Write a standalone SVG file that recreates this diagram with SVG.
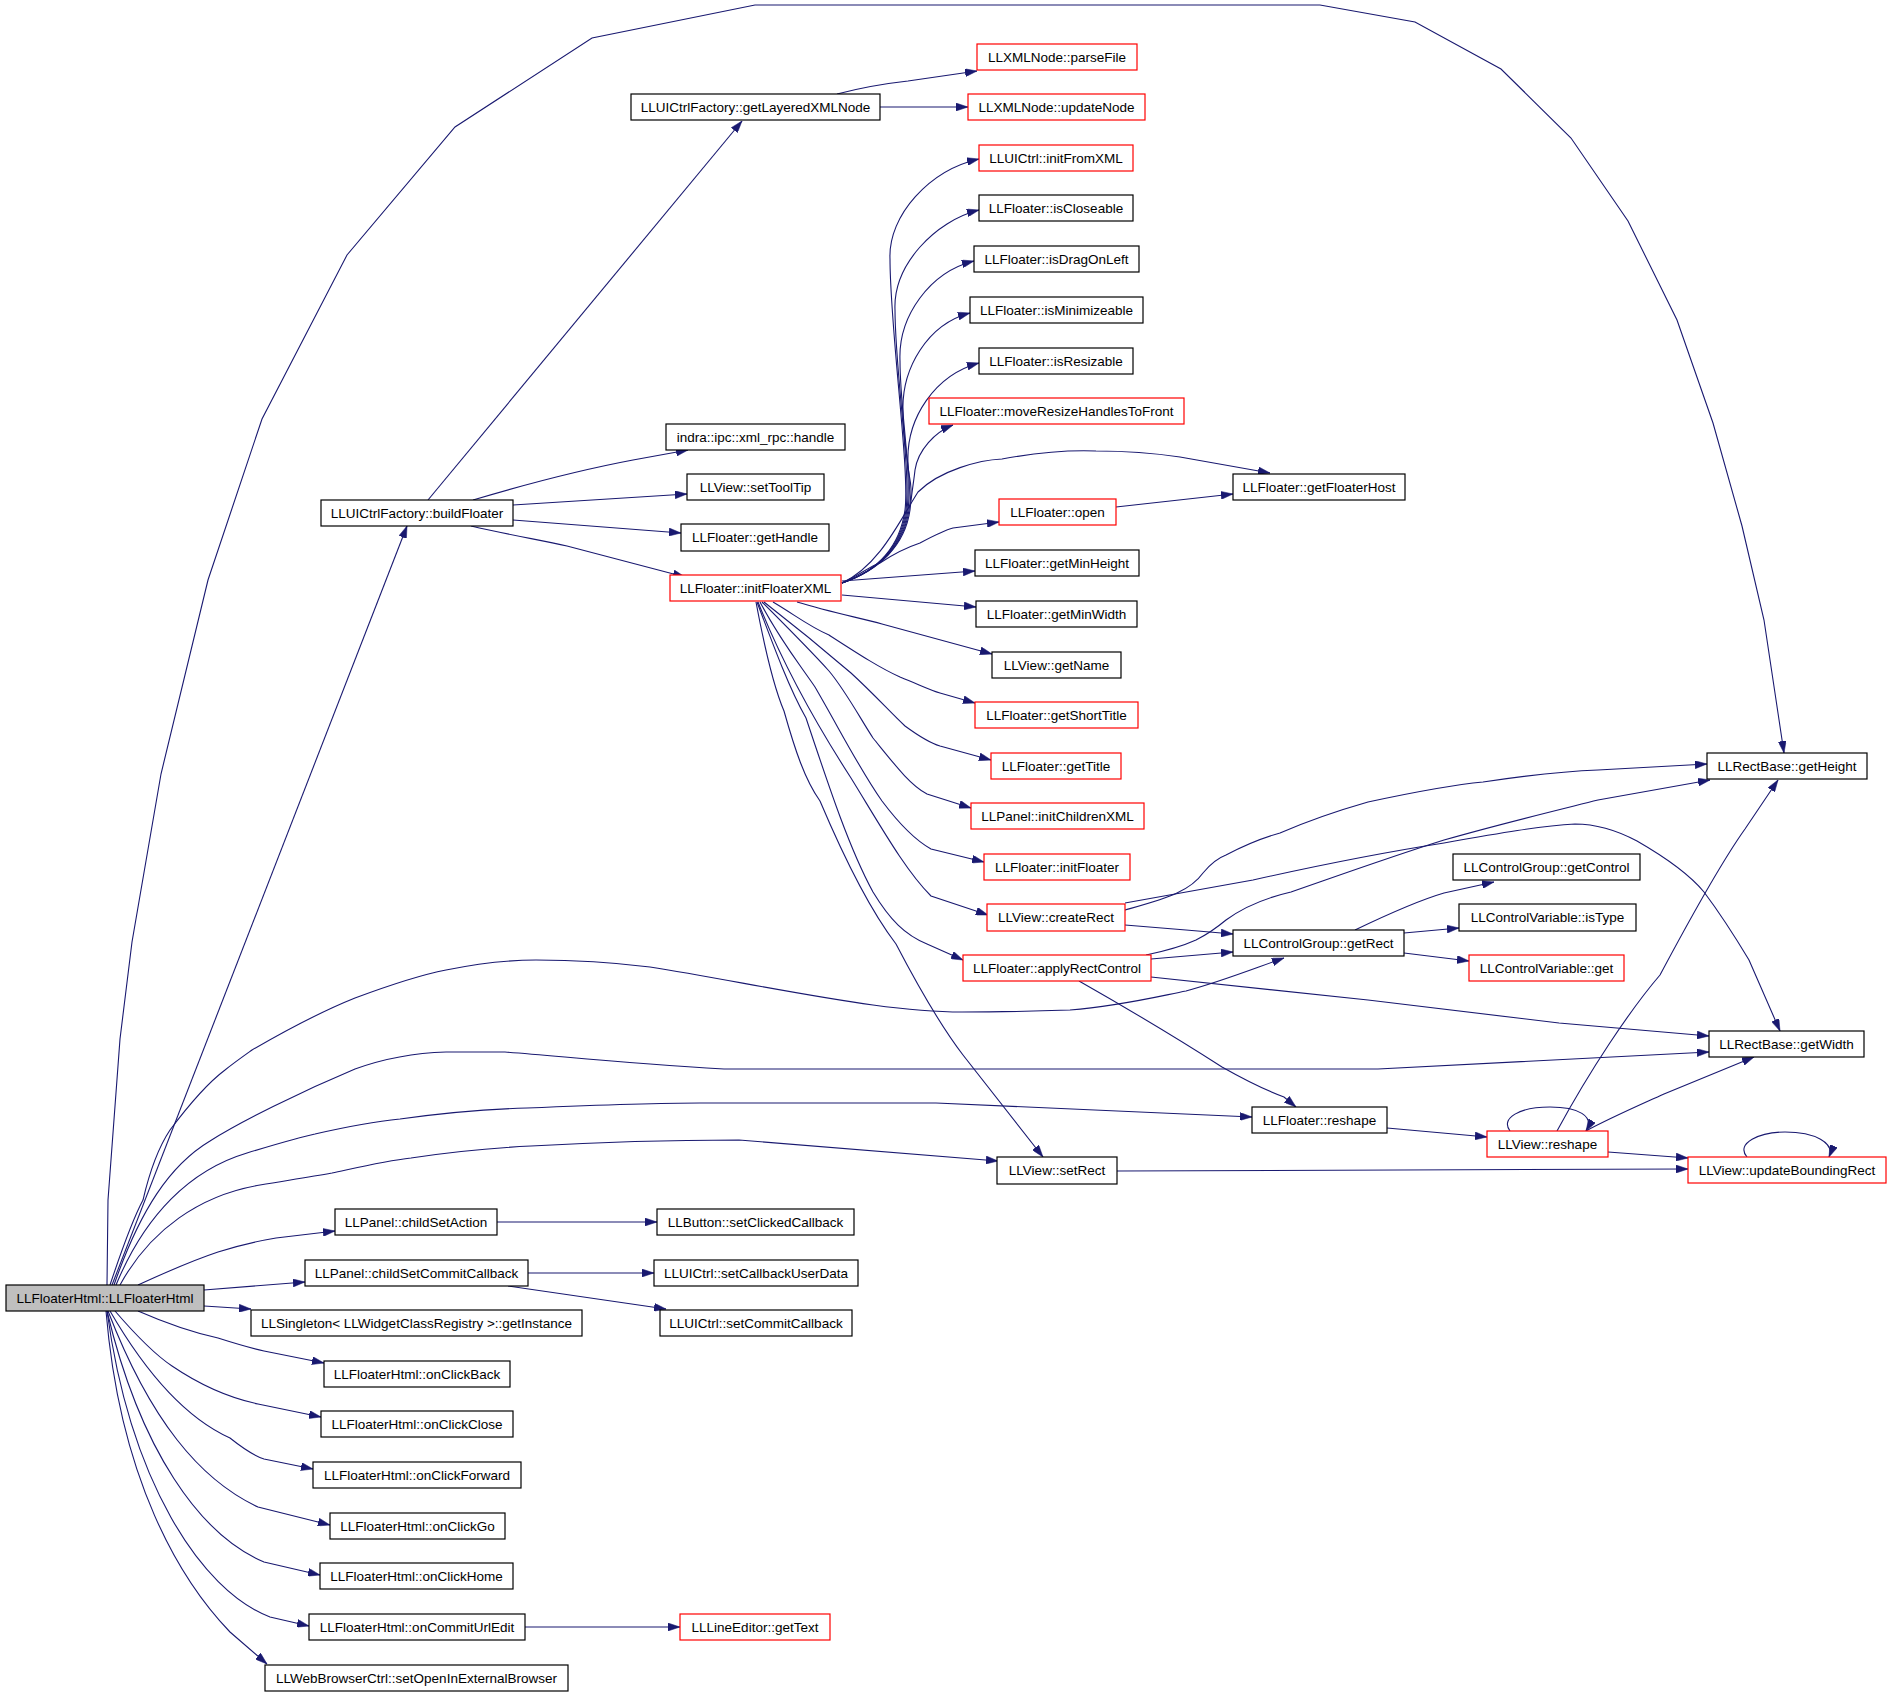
<svg xmlns="http://www.w3.org/2000/svg" width="1891" height="1696" viewBox="0 0 1891 1696">
<style>
.n rect{fill:#fff;stroke:#000;stroke-width:1.2}
.n.r rect{stroke:#f00}
.n.g rect{fill:#bfbfbf}
.n text{font-family:"Liberation Sans",Arial,Helvetica,sans-serif;font-size:13.5px;text-anchor:middle;fill:#000}
#edges path{fill:none;stroke:#191970;stroke-width:1.1;marker-end:url(#a)}
</style>
<defs>
<marker id="a" viewBox="0 0 12 8" refX="12" refY="4" markerWidth="12" markerHeight="8" markerUnits="userSpaceOnUse" orient="auto">
<path d="M0,0 L12,4 L0,8 z" fill="#191970" stroke="#191970" stroke-width="0.5"/>
</marker>
</defs>
<rect width="1891" height="1696" fill="#fff"/>
<g id="edges">
<path d="M107,1285 L108,1200 L120,1039 L132,942 L161,774 L208,580 L262,419 L347,255 L455,127 L592,38 L755,5 L1320,5 L1415,22 L1501,69 L1571,138 L1628,221 L1677,320 L1713,423 L1742,526 L1764,620 L1784,753"/>
<path d="M112,1285 L407,526"/>
<path d="M110,1285 C125,1240 135,1215 143,1200 C150,1170 160,1145 170,1130 C185,1110 205,1085 225,1070 C235,1062 245,1055 252,1050 C290,1028 320,1012 355,998 C390,985 420,975 446,970 C480,963 510,960 536,960 C580,960 610,962 650,967 C720,978 800,995 873,1005 C910,1010 940,1012 962,1012 C1000,1012 1040,1011 1070,1010 C1120,1006 1160,996 1186,991 C1220,982 1250,970 1284,958"/>
<path d="M114,1285 C140,1210 170,1165 210,1141 C240,1122 300,1092 355,1069 C380,1060 410,1053 446,1052 L505,1052 C560,1056 620,1063 724,1069 L1378,1069 L1709,1052"/>
<path d="M116,1285 C145,1215 190,1170 247,1153 C280,1143 300,1137 315,1134 C350,1126 380,1121 400,1119 C450,1112 490,1109 527,1108 C600,1105 650,1103 700,1103 L936,1103 L1252,1117"/>
<path d="M120,1285 C150,1230 200,1195 260,1185 C290,1180 310,1177 332,1173 C360,1167 385,1161 411,1158 C450,1152 490,1148 531,1146 C600,1142 650,1140 739,1140 L998,1161"/>
<path d="M138,1285 C175,1268 200,1258 218,1252 C240,1245 258,1241 276,1238 L335,1231"/>
<path d="M204,1290 L305,1282"/>
<path d="M204,1306 L251,1309"/>
<path d="M138,1311 C170,1325 195,1333 218,1338 C240,1345 255,1349 264,1351 L324,1363"/>
<path d="M115,1311 C140,1340 160,1358 172,1366 C200,1385 230,1398 258,1404 L321,1417"/>
<path d="M110,1311 C150,1380 190,1420 230,1438 C245,1450 255,1456 264,1459 L313,1469"/>
<path d="M108,1311 C150,1420 200,1480 258,1507 L330,1525"/>
<path d="M107,1311 C140,1450 200,1535 264,1562 L320,1575"/>
<path d="M107,1311 C130,1480 200,1590 270,1617 L309,1626"/>
<path d="M106,1311 C120,1480 180,1580 230,1632 L267,1664"/>
<path d="M497,1222 L657,1222"/>
<path d="M528,1273 L654,1273"/>
<path d="M508,1286 L666,1309"/>
<path d="M525,1627 L680,1627"/>
<path d="M428,500 L742,121"/>
<path d="M473,500 C530,483 580,470 633,460 L688,450"/>
<path d="M513,505 L687,494"/>
<path d="M513,520 L681,533"/>
<path d="M471,526 C510,535 540,540 567,546 L685,577"/>
<path d="M837,94 C860,88 890,83 908,81 L977,71"/>
<path d="M880,107 L968,107"/>
<path d="M842,583 C880,570 900,545 905,510 C910,470 890,330 890,259 C888,215 930,170 979,159"/>
<path d="M842,583 C880,570 901,545 906,510 C911,470 895,370 895,310 C893,265 935,221 979,210"/>
<path d="M842,583 C880,570 902,545 907,510 C912,470 900,410 900,361 C898,316 930,272 974,261"/>
<path d="M842,583 C880,570 903,545 908,510 C913,470 903,450 903,413 C901,368 928,324 970,313"/>
<path d="M842,583 C880,570 904,545 909,510 C914,480 908,480 908,463 C906,418 935,375 979,363"/>
<path d="M842,583 C880,570 905,545 910,510 C912,490 914,480 915,470 C918,450 935,432 953,425"/>
<path d="M842,583 C880,565 900,520 918,492 C940,470 980,460 1002,459 C1040,452 1070,450 1096,451 C1130,451 1160,454 1180,457 L1270,473"/>
<path d="M842,583 C860,575 870,566 880,563 C895,553 905,548 920,543 C935,535 945,530 953,528 L999,522"/>
<path d="M842,581 L975,571"/>
<path d="M842,595 L976,607"/>
<path d="M797,602 C830,612 860,618 882,624 L992,654"/>
<path d="M773,602 C795,615 810,627 829,635 C860,655 880,668 900,677 C920,685 930,690 940,693 L975,703"/>
<path d="M764,602 C800,630 830,655 851,673 C875,695 890,712 905,726 C920,737 930,743 940,746 L991,760"/>
<path d="M762,602 C790,630 810,650 829,671 C845,690 860,718 873,738 C895,765 910,785 927,794 L971,808"/>
<path d="M760,602 C780,640 800,665 815,687 C840,730 860,770 882,801 C900,825 915,840 931,849 L984,862"/>
<path d="M758,602 C785,670 820,730 851,778 C880,825 905,870 931,896 L988,915"/>
<path d="M757,602 C775,650 790,690 806,718 C830,790 850,850 873,892 C890,920 905,935 927,944 L963,960"/>
<path d="M756,602 C765,650 775,690 784,711 C795,750 805,780 820,801 C845,860 870,910 896,944 C920,990 940,1025 963,1055 L1043,1157"/>
<path d="M1116,507 L1233,494"/>
<path d="M1125,910 C1150,903 1165,899 1177,893 C1190,887 1198,880 1203,873 C1212,862 1218,858 1226,855 C1245,845 1262,838 1280,833 C1310,820 1340,810 1368,802 C1410,793 1450,785 1483,782 C1530,775 1570,771 1598,770 L1707,764"/>
<path d="M1125,903 L1253,880 C1320,865 1380,853 1444,843 C1500,833 1540,826 1575,824 C1600,824 1620,832 1637,841 C1670,860 1690,875 1704,892 C1725,920 1740,945 1749,960 L1780,1031"/>
<path d="M1125,925 L1186,930 L1233,934"/>
<path d="M1151,959 L1233,952"/>
<path d="M1146,955 C1170,950 1185,945 1196,940 C1210,933 1220,925 1226,920 C1245,906 1265,898 1291,892 C1340,875 1390,857 1444,840 C1500,824 1550,812 1598,800 L1710,780"/>
<path d="M1151,977 L1368,1000 L1559,1023 L1709,1036"/>
<path d="M1079,981 C1130,1010 1180,1040 1222,1067 C1245,1080 1265,1090 1284,1097 L1296,1107"/>
<path d="M1355,930 C1380,918 1420,900 1444,893 L1494,882"/>
<path d="M1404,933 L1459,928"/>
<path d="M1404,953 L1469,961"/>
<path d="M1387,1128 L1487,1137"/>
<path d="M1510,1131 C1500,1118 1520,1107 1550,1107 C1578,1107 1595,1116 1586,1131"/>
<path d="M1557,1131 C1590,1070 1630,1010 1660,975 C1700,900 1730,850 1745,829 L1778,780"/>
<path d="M1586,1131 C1610,1118 1640,1105 1664,1094 L1754,1057"/>
<path d="M1608,1152 L1688,1158"/>
<path d="M1747,1157 C1735,1143 1760,1132 1785,1132 C1815,1132 1835,1143 1829,1157"/>
<path d="M1117,1171 L1688,1169"/>
</g>
<g id="n1" class="n g"><rect x="6" y="1285" width="198" height="26"/><text x="105" y="1302.5">LLFloaterHtml::LLFloaterHtml</text></g>
<g id="n2" class="n"><rect x="321" y="500" width="192" height="26"/><text x="417" y="517.5">LLUICtrlFactory::buildFloater</text></g>
<g id="n3" class="n"><rect x="631" y="94" width="249" height="26"/><text x="755.5" y="111.5">LLUICtrlFactory::getLayeredXMLNode</text></g>
<g id="n4" class="n r"><rect x="977" y="44" width="160" height="26"/><text x="1057" y="61.5">LLXMLNode::parseFile</text></g>
<g id="n5" class="n r"><rect x="968" y="94" width="177" height="26"/><text x="1056.5" y="111.5">LLXMLNode::updateNode</text></g>
<g id="n6" class="n r"><rect x="979" y="145" width="154" height="26"/><text x="1056" y="162.5">LLUICtrl::initFromXML</text></g>
<g id="n7" class="n"><rect x="979" y="195" width="154" height="26"/><text x="1056" y="212.5">LLFloater::isCloseable</text></g>
<g id="n8" class="n"><rect x="974" y="246" width="165" height="26"/><text x="1056.5" y="263.5">LLFloater::isDragOnLeft</text></g>
<g id="n9" class="n"><rect x="970" y="297" width="173" height="26"/><text x="1056.5" y="314.5">LLFloater::isMinimizeable</text></g>
<g id="n10" class="n"><rect x="979" y="348" width="154" height="26"/><text x="1056" y="365.5">LLFloater::isResizable</text></g>
<g id="n11" class="n r"><rect x="929" y="398" width="255" height="26"/><text x="1056.5" y="415.5">LLFloater::moveResizeHandlesToFront</text></g>
<g id="n12" class="n"><rect x="1233" y="474" width="172" height="26"/><text x="1319" y="491.5">LLFloater::getFloaterHost</text></g>
<g id="n13" class="n r"><rect x="999" y="499" width="117" height="26"/><text x="1057.5" y="516.5">LLFloater::open</text></g>
<g id="n14" class="n"><rect x="975" y="550" width="164" height="26"/><text x="1057" y="567.5">LLFloater::getMinHeight</text></g>
<g id="n15" class="n"><rect x="976" y="601" width="161" height="26"/><text x="1056.5" y="618.5">LLFloater::getMinWidth</text></g>
<g id="n16" class="n"><rect x="992" y="652" width="129" height="26"/><text x="1056.5" y="669.5">LLView::getName</text></g>
<g id="n17" class="n r"><rect x="975" y="702" width="163" height="26"/><text x="1056.5" y="719.5">LLFloater::getShortTitle</text></g>
<g id="n18" class="n r"><rect x="991" y="753" width="130" height="26"/><text x="1056" y="770.5">LLFloater::getTitle</text></g>
<g id="n19" class="n r"><rect x="971" y="803" width="173" height="26"/><text x="1057.5" y="820.5">LLPanel::initChildrenXML</text></g>
<g id="n20" class="n r"><rect x="984" y="854" width="146" height="26"/><text x="1057" y="871.5">LLFloater::initFloater</text></g>
<g id="n21" class="n r"><rect x="987" y="904" width="138" height="27"/><text x="1056" y="922">LLView::createRect</text></g>
<g id="n22" class="n r"><rect x="963" y="955" width="188" height="26"/><text x="1057" y="972.5">LLFloater::applyRectControl</text></g>
<g id="n23" class="n"><rect x="1233" y="930" width="171" height="26"/><text x="1318.5" y="947.5">LLControlGroup::getRect</text></g>
<g id="n24" class="n"><rect x="1453" y="854" width="187" height="26"/><text x="1546.5" y="871.5">LLControlGroup::getControl</text></g>
<g id="n25" class="n"><rect x="1459" y="904" width="177" height="27"/><text x="1547.5" y="922">LLControlVariable::isType</text></g>
<g id="n26" class="n r"><rect x="1469" y="955" width="155" height="26"/><text x="1546.5" y="972.5">LLControlVariable::get</text></g>
<g id="n27" class="n"><rect x="1707" y="753" width="160" height="26"/><text x="1787" y="770.5">LLRectBase::getHeight</text></g>
<g id="n28" class="n"><rect x="1709" y="1031" width="155" height="26"/><text x="1786.5" y="1048.5">LLRectBase::getWidth</text></g>
<g id="n29" class="n"><rect x="1252" y="1107" width="135" height="26"/><text x="1319.5" y="1124.5">LLFloater::reshape</text></g>
<g id="n30" class="n r"><rect x="1487" y="1131" width="121" height="26"/><text x="1547.5" y="1148.5">LLView::reshape</text></g>
<g id="n31" class="n r"><rect x="1688" y="1157" width="198" height="26"/><text x="1787" y="1174.5">LLView::updateBoundingRect</text></g>
<g id="n32" class="n"><rect x="997" y="1157" width="120" height="27"/><text x="1057" y="1175">LLView::setRect</text></g>
<g id="n33" class="n"><rect x="666" y="424" width="179" height="26"/><text x="755.5" y="441.5">indra::ipc::xml_rpc::handle</text></g>
<g id="n34" class="n"><rect x="687" y="474" width="137" height="26"/><text x="755.5" y="491.5">LLView::setToolTip</text></g>
<g id="n35" class="n"><rect x="681" y="524" width="148" height="27"/><text x="755" y="542">LLFloater::getHandle</text></g>
<g id="n36" class="n r"><rect x="670" y="575" width="171" height="26"/><text x="755.5" y="592.5">LLFloater::initFloaterXML</text></g>
<g id="n37" class="n"><rect x="335" y="1209" width="162" height="26"/><text x="416" y="1226.5">LLPanel::childSetAction</text></g>
<g id="n38" class="n"><rect x="657" y="1209" width="197" height="26"/><text x="755.5" y="1226.5">LLButton::setClickedCallback</text></g>
<g id="n39" class="n"><rect x="305" y="1260" width="223" height="26"/><text x="416.5" y="1277.5">LLPanel::childSetCommitCallback</text></g>
<g id="n40" class="n"><rect x="654" y="1260" width="204" height="26"/><text x="756" y="1277.5">LLUICtrl::setCallbackUserData</text></g>
<g id="n41" class="n"><rect x="251" y="1310" width="331" height="26"/><text x="416.5" y="1327.5">LLSingleton&lt; LLWidgetClassRegistry &gt;::getInstance</text></g>
<g id="n42" class="n"><rect x="660" y="1310" width="192" height="26"/><text x="756" y="1327.5">LLUICtrl::setCommitCallback</text></g>
<g id="n43" class="n"><rect x="324" y="1361" width="186" height="26"/><text x="417" y="1378.5">LLFloaterHtml::onClickBack</text></g>
<g id="n44" class="n"><rect x="321" y="1411" width="192" height="26"/><text x="417" y="1428.5">LLFloaterHtml::onClickClose</text></g>
<g id="n45" class="n"><rect x="313" y="1462" width="208" height="26"/><text x="417" y="1479.5">LLFloaterHtml::onClickForward</text></g>
<g id="n46" class="n"><rect x="330" y="1513" width="175" height="26"/><text x="417.5" y="1530.5">LLFloaterHtml::onClickGo</text></g>
<g id="n47" class="n"><rect x="320" y="1563" width="193" height="26"/><text x="416.5" y="1580.5">LLFloaterHtml::onClickHome</text></g>
<g id="n48" class="n"><rect x="309" y="1614" width="216" height="26"/><text x="417" y="1631.5">LLFloaterHtml::onCommitUrlEdit</text></g>
<g id="n49" class="n r"><rect x="680" y="1614" width="150" height="26"/><text x="755" y="1631.5">LLLineEditor::getText</text></g>
<g id="n50" class="n"><rect x="265" y="1665" width="303" height="26"/><text x="416.5" y="1682.5">LLWebBrowserCtrl::setOpenInExternalBrowser</text></g>
</svg>
